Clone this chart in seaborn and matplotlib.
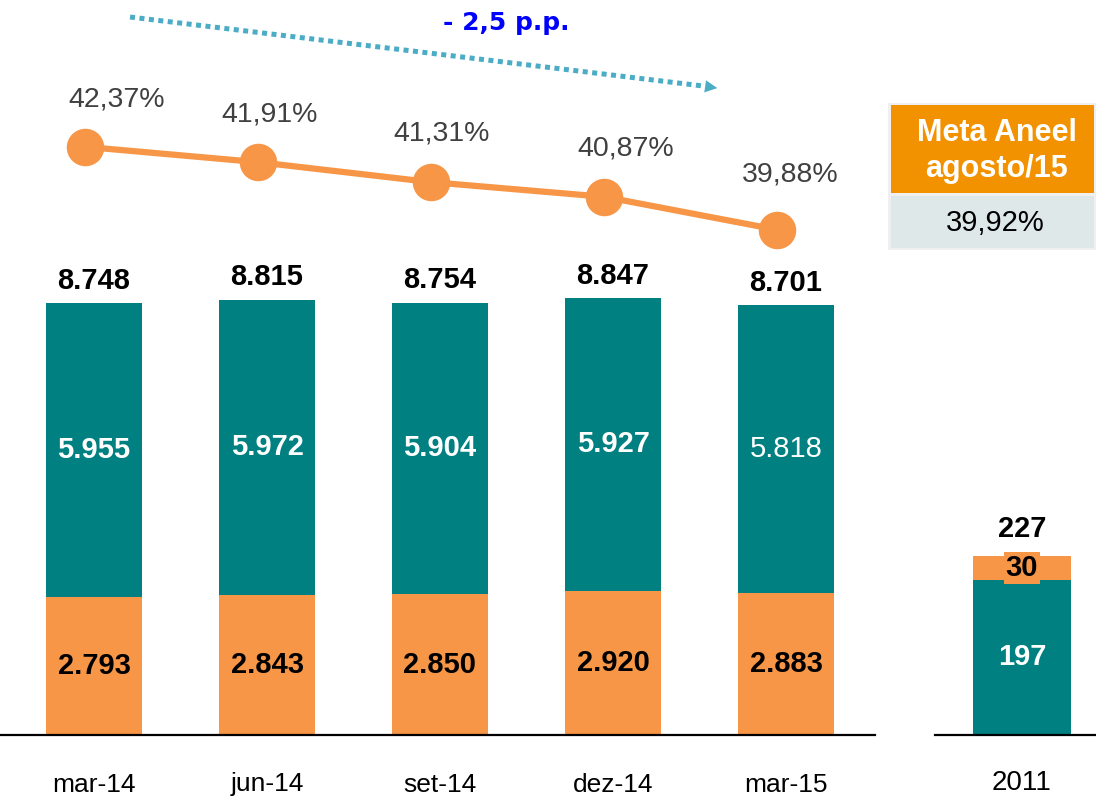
import seaborn as sns
import pandas as pd
import numpy as np
import matplotlib.pyplot as plt
from matplotlib.patches import Rectangle, FancyArrowPatch
from matplotlib.lines import Line2D

periods = ['mar-14', 'jun-14', 'set-14', 'dez-14', 'mar-15']
totals = [8748, 8815, 8754, 8847, 8701]
teal_vals = [5955, 5972, 5904, 5927, 5818]
orange_vals = [2793, 2843, 2850, 2920, 2883]
pct = [42.37, 41.91, 41.31, 40.87, 39.88]

year_2011 = ['2011']
teal_2011 = [197]
orange_2011 = [30]
total_2011 = [227]

meta_title = 'Meta Aneel\nagosto/15'
meta_value = '39,92%'
trend_text = '- 2,5 p.p.'

TEAL = '#008080'
ORANGE = '#F79646'
ARROW = '#4BACC6'

# label offsets (px) of the percentages relative to their markers
pct_offsets = [(31, 47), (11, 48), (10, 49), (21, 48), (13, 55)]

sns.set_theme(style='white')
plt.rcParams['font.family'] = ['Liberation Sans', 'DejaVu Sans']


def fmt(v):
    return f'{v:,}'.replace(',', '.')


df = pd.DataFrame({'periodo': periods, 'total': totals,
                   'verde': teal_vals, 'laranja': orange_vals, 'pct': pct})

W, H = 1096, 798
fig = plt.figure(figsize=(W / 100, H / 100), dpi=100)
base = 735
ax = fig.add_axes([0, (H - base) / H, 875 / W, base / H])

# stacked bars: total in teal, orange overdrawn from zero
bar_kw = dict(width=0.56, saturation=1, linewidth=0, edgecolor='none')
sns.barplot(data=df, x='periodo', y='total', color=TEAL, ax=ax, **bar_kw)
sns.barplot(data=df, x='periodo', y='laranja', color=ORANGE, ax=ax, **bar_kw)
ax.set_xlim(-94 / 173, (875 - 94) / 173)
ax.set_ylim(0, base / 0.04938)
sns.despine(ax=ax, left=True)
ax.spines['bottom'].set_color('black')
ax.spines['bottom'].set_linewidth(1.6)
ax.set_yticks([])
ax.set_xlabel('')
ax.set_ylabel('')
ax.tick_params(axis='x', length=0, pad=27, labelsize=19, labelcolor='black')

for i, row in df.iterrows():
    ax.annotate(fmt(row['total']), (i, row['total']), xytext=(0, 6),
                textcoords='offset points', ha='center', va='bottom',
                fontsize=21, fontweight='bold', color='black')
    ax.text(i, row['laranja'] + row['verde'] / 2, fmt(row['verde']),
            ha='center', va='center', fontsize=21, color='white',
            fontweight='normal' if i == len(df) - 1 else 'bold')
    ax.text(i, row['laranja'] / 2, fmt(row['laranja']), ha='center',
            va='center', fontsize=21, fontweight='bold', color='black')

# loss percentage line
ax2 = ax.twinx()
ax2.set_ylim(24.71, 46.78)
sns.lineplot(x=np.arange(len(pct)) - 0.05, y=pct, color=ORANGE, lw=4.5,
             marker='o', markersize=27, markeredgewidth=0, ax=ax2)
ax2.set_yticks([])
for s in ax2.spines.values():
    s.set_visible(False)
for i, p in enumerate(pct):
    dx, dy = pct_offsets[i]
    ax2.annotate(f'{p:.2f}%'.replace('.', ','), (i - 0.05, p),
                 xytext=(dx * 0.72, dy * 0.72), textcoords='offset points',
                 ha='center', va='center', fontsize=20.5, color='#404040')

# 2011 panel
ax3 = fig.add_axes([935 / W, (H - base) / H, (W - 935) / W, 235 / H])
d11 = pd.DataFrame({'ano': year_2011, 'total': total_2011,
                    'verde': teal_2011, 'laranja': orange_2011})
sns.barplot(data=d11, x='ano', y='total', color=ORANGE, ax=ax3, **bar_kw)
sns.barplot(data=d11, x='ano', y='verde', color=TEAL, ax=ax3, **bar_kw)
ax3.set_xlim(-0.497, 0.423)
ax3.set_ylim(0, 235 / 0.789)
sns.despine(ax=ax3, left=True)
ax3.spines['bottom'].set_color('black')
ax3.spines['bottom'].set_linewidth(1.6)
ax3.set_yticks([])
ax3.set_xlabel('')
ax3.set_ylabel('')
ax3.tick_params(axis='x', length=0, pad=25, labelsize=20, labelcolor='black')
ax3.annotate(fmt(total_2011[0]), (0, total_2011[0]), xytext=(0, 9),
             textcoords='offset points', ha='center', va='bottom',
             fontsize=21, fontweight='bold', color='black')
ax3.text(0, teal_2011[0] + orange_2011[0] / 2, str(orange_2011[0]),
         ha='center', va='center', fontsize=21, fontweight='bold',
         color='black', bbox=dict(facecolor=ORANGE, edgecolor='none', pad=1.5))
ax3.text(0, teal_2011[0] / 2, str(teal_2011[0]), ha='center', va='center',
         fontsize=21, fontweight='bold', color='white')


# Meta Aneel box
def px(x, y):
    return x / W, 1 - y / H


fig.patches.append(Rectangle(px(888, 250), (W - 888) / W, 147 / H,
                             transform=fig.transFigure, facecolor='#F0F0F0',
                             edgecolor='none'))
fig.patches.append(Rectangle(px(891, 193), 203 / W, 88 / H,
                             transform=fig.transFigure, facecolor='#F39200',
                             edgecolor='none'))
fig.patches.append(Rectangle(px(891, 248), 203 / W, 52 / H,
                             transform=fig.transFigure, facecolor='#DFE8E8',
                             edgecolor='none'))
fig.text(*px(997, 151), meta_title, ha='center', va='center', fontsize=22,
         fontweight='bold', color='white', linespacing=1.3)
fig.text(*px(995, 223), meta_value, ha='center', va='center', fontsize=21,
         color='black')

# trend arrow
x0, y0 = px(130, 17)
x1, y1 = px(703, 86)
fig.add_artist(Line2D([x0, x1], [y0, y1], transform=fig.transFigure,
                      color=ARROW, lw=3.6, linestyle=(0, (1, 0.9)),
                      dash_capstyle='butt'))
fig.add_artist(FancyArrowPatch(px(700, 85.6), px(720, 88.5),
                               transform=fig.transFigure, arrowstyle='-|>',
                               mutation_scale=22, color=ARROW, lw=0))
fig.text(*px(506, 23), trend_text, ha='center', va='center', fontsize=18,
         fontweight='bold', color='#0000FF', family=['DejaVu Sans'])

fig.savefig('out.png', dpi=100)
